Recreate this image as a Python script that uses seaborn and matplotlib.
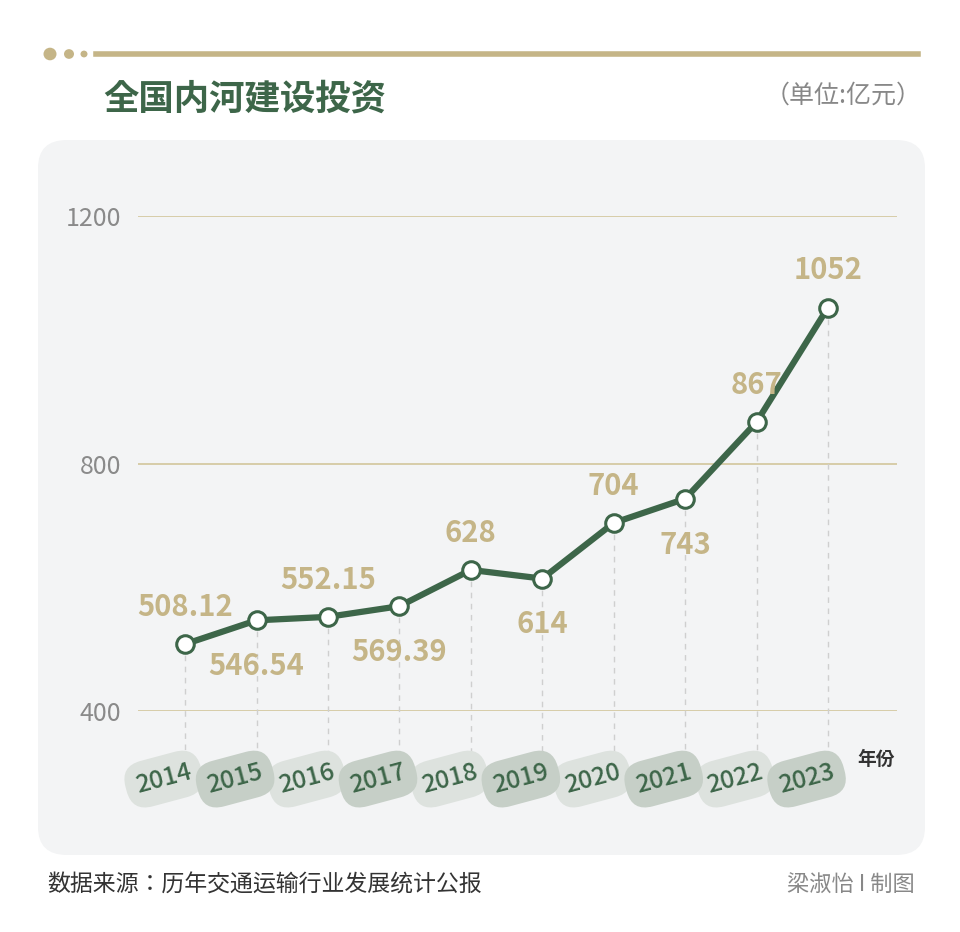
import matplotlib
matplotlib.use("Agg")
import matplotlib.pyplot as plt
import seaborn as sns
import pandas as pd
from matplotlib.patches import FancyBboxPatch, Circle
from matplotlib.lines import Line2D

plt.rcParams["font.family"] = ["Noto Sans CJK JP", "Noto Sans CJK SC", "DejaVu Sans"]

years = ["2014", "2015", "2016", "2017", "2018", "2019", "2020", "2021", "2022", "2023"]
values = [508.12, 546.54, 552.15, 569.39, 628, 614, 704, 743, 867, 1052]
labels = ["508.12", "546.54", "552.15", "569.39", "628", "614", "704", "743", "867", "1052"]
yticks = [400, 800, 1200]

GREEN = "#3d6649"
TAN = "#c5b587"
GRID = "#d5c9a3"

fig = plt.figure(figsize=(9.6, 9.32), dpi=100)
fig.patch.set_facecolor("white")

panel = FancyBboxPatch((38 / 960, 1 - 855 / 932), 887 / 960, 715 / 932,
                       boxstyle="round,pad=0,rounding_size=0.03",
                       transform=fig.transFigure, facecolor="#f3f4f5", edgecolor="none", zorder=-5)
fig.add_artist(panel)

for cx, r in [(50, 6.5), (69, 5), (84, 3.5)]:
    fig.add_artist(Circle((cx / 960, 1 - 54 / 932), r / 960, transform=fig.transFigure,
                          facecolor=TAN, edgecolor="none"))
fig.add_artist(Line2D([96 / 960, 918 / 960], [1 - 54 / 932] * 2, transform=fig.transFigure,
                      color=TAN, lw=4))
fig.text(103 / 960, 1 - 99 / 932, "全国内河建设投资", fontsize=25.5, fontweight="bold",
         color=GREEN, va="center", ha="left")
fig.text(922 / 960, 1 - 96 / 932, "（单位:亿元）", fontsize=18, color="#888888",
         va="center", ha="right")
fig.text(47 / 960, 1 - 885 / 932, "数据来源：历年交通运输行业发展统计公报", fontsize=16.5,
         color="#333333", va="center", ha="left")
fig.text(915 / 960, 1 - 885 / 932, "梁淑怡 I 制图", fontsize=16, color="#888888",
         va="center", ha="right")

ax = fig.add_axes([138 / 960, (932 - 711) / 932, 759 / 960, 495 / 932])
ax.set_facecolor("none")
df = pd.DataFrame({"x": range(len(years)), "v": values})
for t in yticks:
    ax.axhline(t, color=GRID, lw=1.3, zorder=1)

for i, v in enumerate(values):
    ax.plot([i, i], [v, 321], ls=(0, (4, 4)), color="#cfcfcf", lw=1, clip_on=False, zorder=1)

sns.lineplot(data=df, x="x", y="v", ax=ax, color=GREEN, lw=4.5, zorder=3)
ax.scatter(df["x"], df["v"], s=160, facecolor="white", edgecolor=GREEN, linewidth=2.2, zorder=4)
ax.set_xlabel("")
ax.set_ylabel("")
ax.set_xlim(-0.66, 9 + 69 / 71.4)
ax.set_ylim(400, 1200)
ax.set_yticks(yticks)
ax.set_yticklabels([str(t) for t in yticks], fontsize=18, color="#8a8a8a")
ax.tick_params(axis="y", length=0, pad=12)
ax.set_xticks([])
for s in ax.spines.values():
    s.set_visible(False)

below = {1, 3, 5, 7}
for i, (v, lab) in enumerate(zip(values, labels)):
    dy = -74 if i in below else 60
    ax.text(i, v + dy, lab, ha="center", va="center", fontsize=21, fontweight="bold",
            color=TAN, zorder=5)

for i, y in enumerate(years):
    fc = "#dde2de" if i % 2 == 0 else "#c6cfc7"
    ax.text(i - 0.3, 290, y, ha="center", va="center", fontsize=18, fontweight="medium",
            color=GREEN, rotation=15, clip_on=False, zorder=2 + (i % 2),
            bbox=dict(boxstyle="round,pad=0.42,rounding_size=0.85", facecolor=fc, edgecolor="none"))

ax.text(9 + 0.68, 322, "年份", ha="center", va="center", fontsize=13.5, fontweight="bold",
        color="#333333", clip_on=False)

fig.savefig("out.png", dpi=100)
